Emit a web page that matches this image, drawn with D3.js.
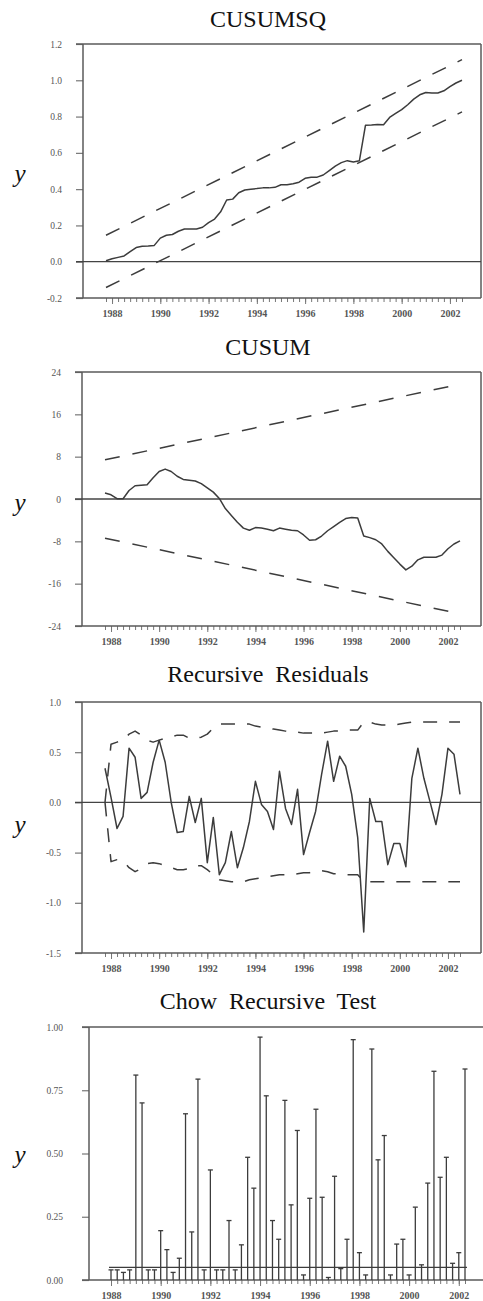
<!DOCTYPE html>
<html><head><meta charset="utf-8">
<script src="https://cdn.jsdelivr.net/npm/d3@7"></script>
<style>body{margin:0;background:#fff} svg{display:block}</style>
</head><body>
<svg id="c" width="483" height="1301"></svg>
<script>
// ---------- DATA ----------
function quarterList(y0, q0, n) {   // category labels, e.g. "1987Q4"
  const out = [];
  for (let i = 0; i < n; i++) { const k = (q0 - 1) + i; out.push((y0 + Math.floor(k / 4)) + "Q" + (k % 4 + 1)); }
  return out;
}
const quartersMain = quarterList(1987, 4, 60);   // 1987Q4 .. 2002Q3
const quartersChow = quarterList(1988, 1, 58);   // 1988Q1 .. 2002Q2
const yearLabels = ["1988", "1990", "1992", "1994", "1996", "1998", "2000", "2002"];

const titles = ["CUSUMSQ", "CUSUM", "Recursive Residuals", "Chow Recursive Test"];

const cusumsq = [0.005,0.016,0.024,0.032,0.055,0.078,0.085,0.087,0.09,0.13,0.146,0.15,0.168,0.18,0.18,0.18,
  0.19,0.215,0.235,0.275,0.34,0.345,0.38,0.395,0.40,0.403,0.407,0.407,0.41,0.424,0.424,0.43,0.438,0.46,0.466,
  0.466,0.478,0.502,0.527,0.546,0.557,0.55,0.557,0.752,0.753,0.756,0.755,0.795,0.817,0.838,0.865,0.896,0.92,
  0.933,0.93,0.93,0.942,0.965,0.985,1.0];
const cusumsqUpper = [0.146, 1.114];   // 5% band at first and last quarter
const cusumsqLower = [-0.142, 0.826];
const cusumsqTicks = [-0.2, 0.0, 0.2, 0.4, 0.6, 0.8, 1.0, 1.2];
const cusumsqTickLabels = ["-0.2", "0.0", "0.2", "0.4", "0.6", "0.8", "1.0", "1.2"];

const cusum = [1.13,0.8,0.05,0.05,1.6,2.5,2.6,2.7,4.0,5.2,5.65,5.2,4.3,3.7,3.55,3.4,2.9,2.1,1.3,0.1,-1.8,-3.1,
  -4.4,-5.5,-5.9,-5.4,-5.5,-5.7,-6.0,-5.5,-5.7,-5.9,-6.0,-6.8,-7.8,-7.7,-7.0,-6.0,-5.2,-4.4,-3.7,-3.5,-3.6,
  -7.0,-7.3,-7.7,-8.5,-9.9,-11.1,-12.3,-13.4,-12.7,-11.5,-11.0,-11.0,-11.0,-10.6,-9.4,-8.5,-7.9];
const cusumUpper = [7.4, 21.7];
const cusumLower = [-7.4, -21.7];
const cusumTicks = [-24, -16, -8, 0, 8, 16, 24];
const cusumTickLabels = ["-24", "-16", "-8", "0", "8", "16", "24"];

const resid = [0.34,0.05,-0.26,-0.14,0.54,0.45,0.04,0.10,0.40,0.62,0.40,0.0,-0.30,-0.29,0.06,-0.20,0.04,-0.60,
  -0.15,-0.72,-0.60,-0.29,-0.65,-0.45,-0.19,0.21,-0.02,-0.09,-0.27,0.31,-0.06,-0.22,0.13,-0.52,-0.30,-0.09,
  0.28,0.61,0.21,0.46,0.36,0.08,-0.35,-1.29,0.04,-0.19,-0.19,-0.62,-0.41,-0.41,-0.64,0.24,0.54,0.24,0.01,
  -0.22,0.08,0.54,0.48,0.08];
const residUpper = [0.0,0.58,0.60,0.62,0.68,0.71,0.67,0.62,0.60,0.62,0.64,0.65,0.67,0.67,0.64,0.64,0.65,0.68,
  0.74,0.78,0.78,0.78,0.78,0.78,0.78,0.76,0.75,0.74,0.73,0.72,0.71,0.70,0.70,0.69,0.69,0.69,0.69,0.70,0.71,
  0.71,0.72,0.72,0.72,0.80,0.80,0.78,0.77,0.77,0.77,0.78,0.79,0.80,0.80,0.80,0.80,0.80,0.80,0.80,0.80,0.80];
const residLower = [0.0,-0.59,-0.57,-0.58,-0.65,-0.69,-0.66,-0.61,-0.60,-0.61,-0.63,-0.65,-0.67,-0.67,-0.66,
  -0.63,-0.63,-0.67,-0.72,-0.77,-0.78,-0.79,-0.79,-0.79,-0.77,-0.76,-0.75,-0.74,-0.73,-0.72,-0.72,-0.72,-0.71,
  -0.70,-0.70,-0.69,-0.68,-0.69,-0.71,-0.71,-0.72,-0.72,-0.72,-0.79,-0.79,-0.79,-0.79,-0.79,-0.79,-0.79,-0.79,
  -0.79,-0.79,-0.79,-0.79,-0.79,-0.79,-0.79,-0.79,-0.79];
const residTicks = [-1.5, -1.0, -0.5, 0.0, 0.5, 1.0];
const residTickLabels = ["-1.5", "-1.0", "-0.5", "0.0", "0.5", "1.0"];

const chowProb = [0.04,0.04,0.03,0.04,0.81,0.70,0.04,0.04,0.195,0.12,0.03,0.086,0.657,0.19,0.794,0.04,0.435,
  0.04,0.04,0.235,0.04,0.139,0.485,0.363,0.96,0.728,0.235,0.161,0.71,0.297,0.591,0.02,0.323,0.675,0.327,0.01,
  0.41,0.045,0.161,0.95,0.108,0.02,0.913,0.475,0.571,0.02,0.142,0.161,0.02,0.288,0.06,0.383,0.825,0.406,0.485,
  0.066,0.108,0.834];
const chowSignificance = 0.05;
const chowTicks = [0.0, 0.25, 0.5, 0.75, 1.0];
const chowTickLabels = ["0.00", "0.25", "0.50", "0.75", "1.00"];

// ---------- DRAWING ----------
const svg = d3.select("#c");
const ink = "#3c3c3c", frameInk = "#5a5a5a", tickInk = "#777";
const serif = "'Liberation Serif','Times New Roman',serif";

function panel(cfg) {
  const g = svg.append("g");
  const n = cfg.quarters.length;
  const x = d3.scaleLinear().domain([0, n - 1]).range([cfg.x0, cfg.x1]);
  const y = d3.scaleLinear().domain(cfg.yDomain).range([cfg.bottom, cfg.top]);

  g.append("text").attr("x", 268).attr("y", cfg.titleY).attr("text-anchor", "middle")
    .attr("font-family", serif).attr("font-size", 24).attr("word-spacing", 6).attr("fill", "#111")
    .text(cfg.title);
  g.append("text").attr("x", 20).attr("y", cfg.yLabelY).attr("text-anchor", "middle")
    .attr("font-family", serif).attr("font-style", "italic").attr("font-size", 25).attr("fill", "#111")
    .text("y");

  const ya = g.append("g").attr("transform", `translate(${cfg.left},0)`)
    .call(d3.axisLeft(y).tickValues(cfg.yTicks).tickFormat((d, i) => cfg.yTickLabels[i])
      .tickSize(7).tickPadding(cfg.yPad));
  ya.select(".domain").remove();
  ya.selectAll("line").attr("stroke", tickInk).attr("stroke-width", 1.2);
  ya.selectAll("text").attr("font-family", serif).attr("font-size", 9.5).attr("fill", "#555");

  const xa = g.append("g").attr("transform", `translate(0,${cfg.bottom})`)
    .call(d3.axisBottom(x).tickValues(d3.range(n)).tickFormat("").tickSize(4));
  xa.select(".domain").remove();
  xa.selectAll("line").attr("stroke", tickInk).attr("stroke-width", 1);
  const yearIdx = yearLabels.map(yl => cfg.quarters.indexOf(yl + "Q1"));
  const xl = g.append("g").attr("transform", `translate(0,${cfg.bottom})`)
    .call(d3.axisBottom(x).tickValues(yearIdx).tickFormat((d, i) => yearLabels[i]).tickSize(6).tickPadding(6));
  xl.select(".domain").remove();
  xl.selectAll("line").attr("stroke", tickInk).attr("stroke-width", 1);
  xl.selectAll("text").attr("font-family", serif).attr("font-size", 10).attr("font-weight", "bold").attr("fill", "#555");

  const fr = g.append("g").attr("stroke", frameInk).attr("stroke-width", 1.5).attr("fill", "none");
  fr.append("line").attr("x1", cfg.left).attr("x2", cfg.left).attr("y1", cfg.top).attr("y2", cfg.bottom);
  fr.append("line").attr("x1", cfg.left - 7).attr("x2", cfg.right).attr("y1", cfg.top).attr("y2", cfg.top);
  fr.append("line").attr("x1", cfg.right).attr("x2", cfg.right).attr("y1", cfg.top).attr("y2", cfg.bottom);
  fr.append("line").attr("x1", cfg.left - 7).attr("x2", cfg.right).attr("y1", cfg.bottom).attr("y2", cfg.bottom);
  if (cfg.zero) {
    g.append("line").attr("x1", cfg.left - 7).attr("x2", cfg.right).attr("y1", y(0)).attr("y2", y(0))
      .attr("stroke", "#444").attr("stroke-width", 1.3);
  }
  return { g, x, y, n };
}

function seriesLine(p, values, dashed) {
  const line = d3.line().x((d, i) => p.x(i)).y(d => p.y(d));
  p.g.append("path").datum(values).attr("d", line).attr("fill", "none")
    .attr("stroke", ink).attr("stroke-width", 1.5)
    .attr("stroke-dasharray", dashed ? "14,12" : null).attr("stroke-linejoin", "round");
}
function bandLine(p, ends) {
  p.g.append("line").attr("x1", p.x(0)).attr("x2", p.x(p.n - 1))
    .attr("y1", p.y(ends[0])).attr("y2", p.y(ends[1]))
    .attr("stroke", ink).attr("stroke-width", 1.5).attr("stroke-dasharray", "15,13");
}

const p1 = panel({ title: titles[0], quarters: quartersMain, titleY: 27, yLabelY: 182, left: 83, right: 481, top: 44, bottom: 298,
  x0: 106, x1: 462, yDomain: [-0.2, 1.2], yTicks: cusumsqTicks, yTickLabels: cusumsqTickLabels, yPad: 14, zero: true });
bandLine(p1, cusumsqUpper); bandLine(p1, cusumsqLower); seriesLine(p1, cusumsq, false);

const p2 = panel({ title: titles[1], quarters: quartersMain, titleY: 355, yLabelY: 511, left: 82, right: 481, top: 372, bottom: 626,
  x0: 105, x1: 460, yDomain: [-24, 24], yTicks: cusumTicks, yTickLabels: cusumTickLabels, yPad: 14, zero: true });
bandLine(p2, cusumUpper); bandLine(p2, cusumLower); seriesLine(p2, cusum, false);

const p3 = panel({ title: titles[2], quarters: quartersMain, titleY: 682, yLabelY: 833, left: 82, right: 481, top: 702, bottom: 953,
  x0: 105, x1: 460, yDomain: [-1.5, 1.0], yTicks: residTicks, yTickLabels: residTickLabels, yPad: 14, zero: true });
seriesLine(p3, residUpper, true); seriesLine(p3, residLower, true); seriesLine(p3, resid, false);

const p4 = panel({ title: titles[3], quarters: quartersChow, titleY: 1009, yLabelY: 1163, left: 89, right: 486, top: 1027, bottom: 1280,
  x0: 111, x1: 465, yDomain: [0, 1], yTicks: chowTicks, yTickLabels: chowTickLabels, yPad: 19, zero: false });
p4.g.append("line").attr("x1", p4.x(0) - 2).attr("x2", p4.x(p4.n - 1) + 2)
  .attr("y1", p4.y(chowSignificance)).attr("y2", p4.y(chowSignificance))
  .attr("stroke", ink).attr("stroke-width", 1.3);
const stems = p4.g.append("g").attr("stroke", ink).attr("stroke-width", 1.3);
chowProb.forEach((v, i) => {
  stems.append("line").attr("x1", p4.x(i)).attr("x2", p4.x(i)).attr("y1", p4.y(0)).attr("y2", p4.y(v));
  stems.append("line").attr("x1", p4.x(i) - 2.5).attr("x2", p4.x(i) + 2.5).attr("y1", p4.y(v)).attr("y2", p4.y(v));
});
</script>
</body></html>
